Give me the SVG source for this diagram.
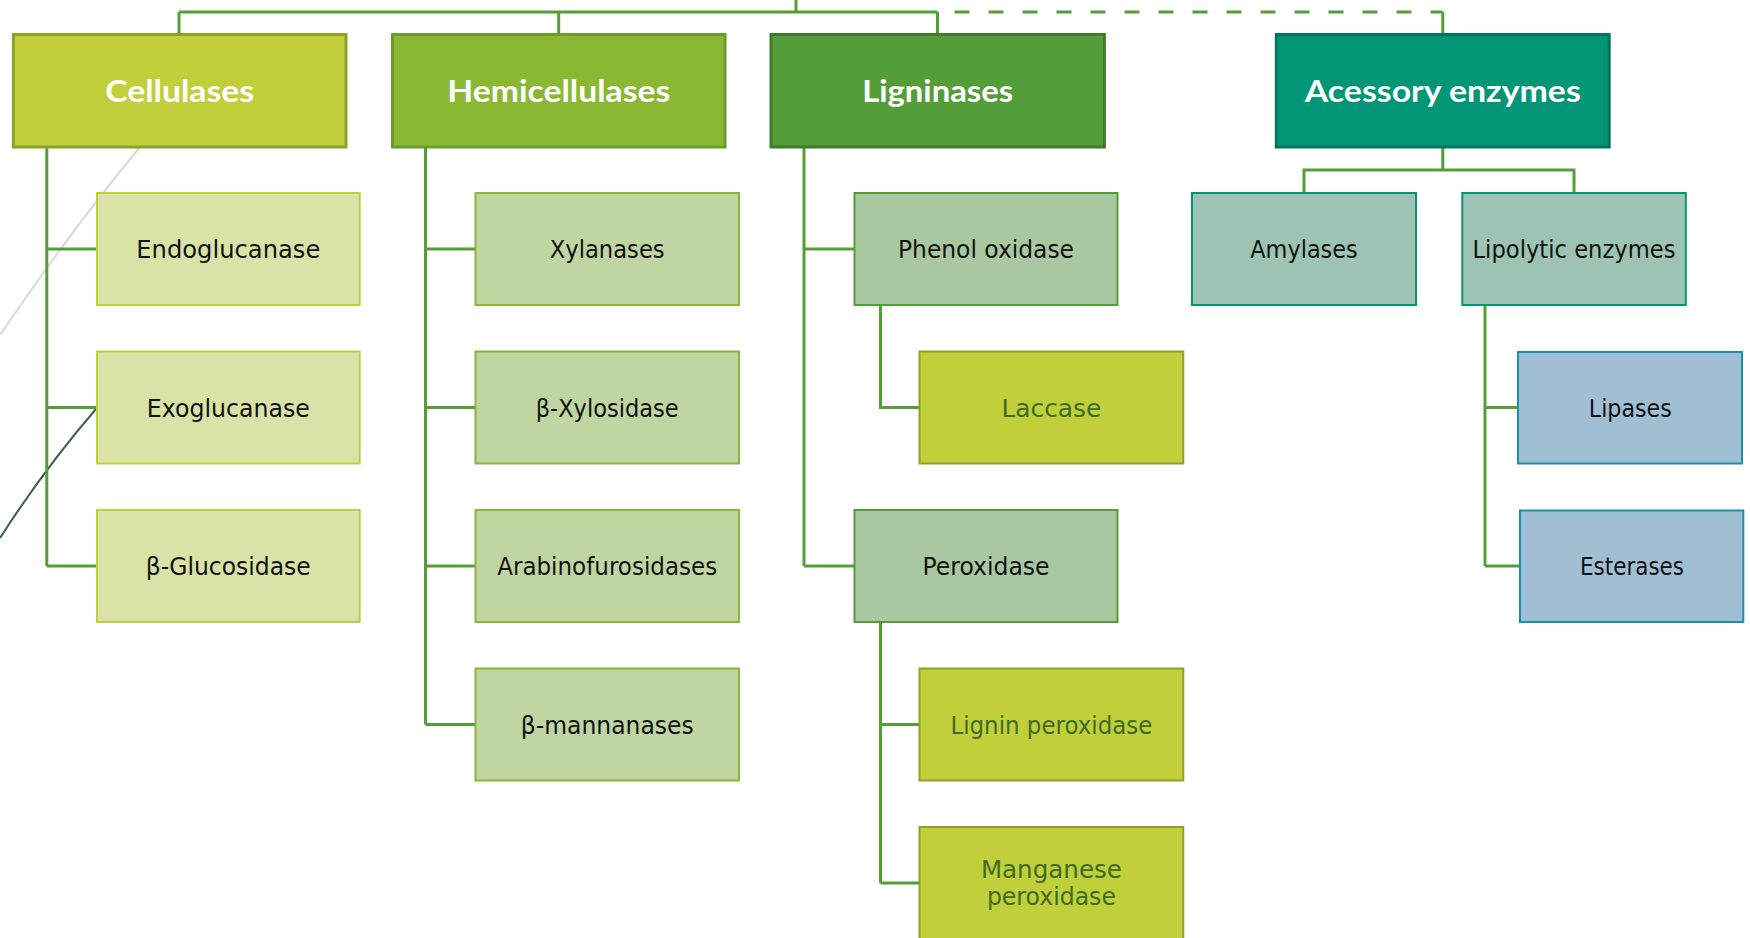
<svg xmlns="http://www.w3.org/2000/svg" width="1750" height="938" viewBox="0 0 1750 938">
<style>
.l1 text{font-family:Lato,"DejaVu Sans",sans-serif;font-weight:bold;font-size:31px;fill:#ffffff;text-anchor:middle}
.l2 text{font-family:"DejaVu Sans",sans-serif;font-size:24px;fill:#111111;text-anchor:middle}
.l1 rect{stroke-width:3}
.l2 rect{stroke-width:2}
.cel1{fill:#c0cf3a;stroke:#8fa02a}
.hem1{fill:#8ab833;stroke:#6e9a2a}
.lig1{fill:#549e39;stroke:#3f7d2b}
.acc1{fill:#029676;stroke:#027560}
.cel2{fill:#d9e3a7;stroke:#c0cf3a}
.hem2{fill:#bfd6a3;stroke:#8ab833}
.lig2{fill:#a9c7a0;stroke:#549e39}
.lig3{fill:#c0cf3a;stroke:#8fa02a}
.acc2{fill:#9dc3b3;stroke:#029676}
.acc3{fill:#a0bfd3;stroke:#1a8fae}
.g3 text{fill:#3f6b25}
#connectors path{fill:none;stroke:#549e39;stroke-width:3}
</style>
<rect width="1750" height="938" fill="#ffffff"/>
<g id="decoration" fill="none">
<path d="M140,147 Q 75,225 0,335" stroke="#d9d9d9" stroke-width="2"/>
<path d="M96,409 Q 45,468 0,538" stroke="#3e5e4e" stroke-width="2"/>
</g>
<g id="connectors">
<path d="M796,0 V12 M179,12 H937.5 M179,12 V34.5 M558.7,12 V34.5 M937.5,12 V34.5 M1442.8,12 V34.5"/>
<path d="M937.5,12 H1442.8" stroke-dasharray="15 19" stroke-dashoffset="-17"/>
<path d="M46.8,147 V566 M46.8,249 H97 M46.8,407.5 H97 M46.8,566 H97"/>
<path d="M425.5,147 V724.5 M425.5,249 H475.5 M425.5,407.5 H475.5 M425.5,566 H475.5 M425.5,724.5 H475.5"/>
<path d="M804,147 V566 M804,249 H854.5 M804,566 H854.5"/>
<path d="M880.5,305 V407.5 H919.5"/>
<path d="M880.5,622 V883 M880.5,724.5 H919.5 M880.5,883 H919.5"/>
<path d="M1442.8,147 V170 M1304,193 V170 H1574 V193"/>
<path d="M1485,305 V566 M1485,407.5 H1518 M1485,566 H1520"/>
</g>
<g id="cellulases" class="l1"><rect class="cel1" x="13.4" y="34.5" width="332.6" height="112.5"/><text x="179.7" y="101.5" textLength="149" lengthAdjust="spacingAndGlyphs">Cellulases</text></g>
<g id="hemicellulases" class="l1"><rect class="hem1" x="392.5" y="34.5" width="332.5" height="112.5"/><text x="558.8" y="101.5" textLength="223" lengthAdjust="spacingAndGlyphs">Hemicellulases</text></g>
<g id="ligninases" class="l1"><rect class="lig1" x="771" y="34.5" width="333.4" height="112.5"/><text x="937.7" y="101.5" textLength="151" lengthAdjust="spacingAndGlyphs">Ligninases</text></g>
<g id="accessory" class="l1"><rect class="acc1" x="1276.3" y="34.5" width="332.9" height="112.5"/><text x="1442.8" y="101.5" textLength="276" lengthAdjust="spacingAndGlyphs">Acessory enzymes</text></g>

<g id="endoglucanase" class="l2"><rect class="cel2" x="97" y="193" width="262.7" height="112"/><text x="228.3" y="258" textLength="184" lengthAdjust="spacingAndGlyphs">Endoglucanase</text></g>
<g id="exoglucanase" class="l2"><rect class="cel2" x="97" y="351.5" width="262.7" height="112"/><text x="228.3" y="416.5" textLength="163" lengthAdjust="spacingAndGlyphs">Exoglucanase</text></g>
<g id="glucosidase" class="l2"><rect class="cel2" x="97" y="510" width="262.7" height="112"/><text x="228.3" y="575" textLength="165" lengthAdjust="spacingAndGlyphs">β-Glucosidase</text></g>

<g id="xylanases" class="l2"><rect class="hem2" x="475.5" y="193" width="263.5" height="112"/><text x="607.2" y="258" textLength="115" lengthAdjust="spacingAndGlyphs">Xylanases</text></g>
<g id="xylosidase" class="l2"><rect class="hem2" x="475.5" y="351.5" width="263.5" height="112"/><text x="607.2" y="416.5" textLength="143" lengthAdjust="spacingAndGlyphs">β-Xylosidase</text></g>
<g id="arabinofurosidases" class="l2"><rect class="hem2" x="475.5" y="510" width="263.5" height="112"/><text x="607.2" y="575" textLength="220" lengthAdjust="spacingAndGlyphs">Arabinofurosidases</text></g>
<g id="mannanases" class="l2"><rect class="hem2" x="475.5" y="668.5" width="263.5" height="112"/><text x="607.2" y="733.5" textLength="173" lengthAdjust="spacingAndGlyphs">β-mannanases</text></g>

<g id="phenol-oxidase" class="l2"><rect class="lig2" x="854.5" y="193" width="263" height="112"/><text x="986" y="258" textLength="176" lengthAdjust="spacingAndGlyphs">Phenol oxidase</text></g>
<g id="laccase" class="l2 g3"><rect class="lig3" x="919.5" y="351.5" width="263.8" height="112"/><text x="1051.4" y="416.5" textLength="100" lengthAdjust="spacingAndGlyphs">Laccase</text></g>
<g id="peroxidase" class="l2"><rect class="lig2" x="854.5" y="510" width="263" height="112"/><text x="986" y="575" textLength="127" lengthAdjust="spacingAndGlyphs">Peroxidase</text></g>
<g id="lignin-peroxidase" class="l2 g3"><rect class="lig3" x="919.5" y="668.5" width="263.8" height="112"/><text x="1051.4" y="733.5" textLength="202" lengthAdjust="spacingAndGlyphs">Lignin peroxidase</text></g>
<g id="manganese-peroxidase" class="l2 g3"><rect class="lig3" x="919.5" y="827" width="263.8" height="112"/><text x="1051.4" y="878.3" textLength="141" lengthAdjust="spacingAndGlyphs">Manganese</text><text x="1051.4" y="905" textLength="129" lengthAdjust="spacingAndGlyphs">peroxidase</text></g>

<g id="amylases" class="l2"><rect class="acc2" x="1192" y="193" width="224" height="112"/><text x="1304" y="258" textLength="107.5" lengthAdjust="spacingAndGlyphs">Amylases</text></g>
<g id="lipolytic" class="l2"><rect class="acc2" x="1462.3" y="193" width="223.5" height="112"/><text x="1574" y="258" textLength="203" lengthAdjust="spacingAndGlyphs">Lipolytic enzymes</text></g>
<g id="lipases" class="l2"><rect class="acc3" x="1518" y="352" width="224" height="111.5"/><text x="1630.3" y="416.5" textLength="83" lengthAdjust="spacingAndGlyphs">Lipases</text></g>
<g id="esterases" class="l2"><rect class="acc3" x="1520" y="510.5" width="223.3" height="111.5"/><text x="1632" y="575" textLength="104" lengthAdjust="spacingAndGlyphs">Esterases</text></g>
</svg>
